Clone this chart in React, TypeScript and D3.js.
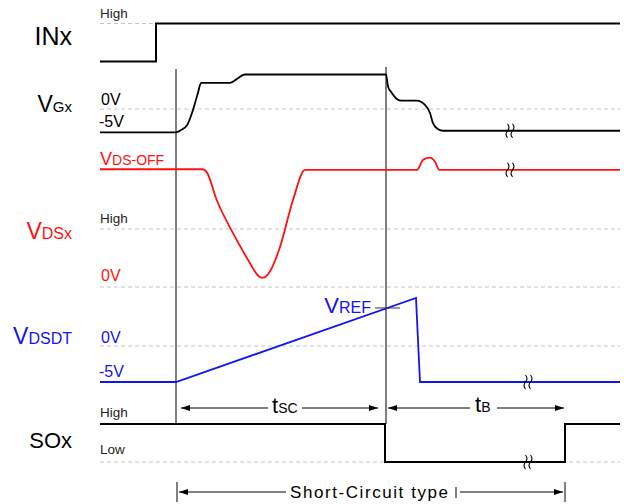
import React from 'react';
import * as d3 from 'd3';

// time axis in arbitrary units, 0 = left edge of the traces
const inxWave = [[0, 0], [56, 0], [56, 1], [520, 1]];
const vgxWave = [
  [0, -5], [76, -5], [82, -4.4], [87, -3.5], [93, -0.2], [98, 3.5], [101, 5.6],
  [130, 5.6], [136, 6.3], [145, 7.4], [286, 7.4], [288, 4.85], [291.7, 3.48],
  [296.7, 2.17], [301.7, 1.8], [316.7, 1.8], [325, 0.87], [330, -0.87],
  [333, -3.04], [336.7, -4.13], [343, -4.67], [520, -4.67],
];
const vdsWave = [
  [0, 2.03], [103, 2.03], [106.7, 1.98], [116.7, 1.5], [133, 0.93], [150, 0.41],
  [156, 0.24], [160, 0.17], [163, 0.16], [166, 0.18], [170, 0.27], [180, 0.69],
  [193, 1.5], [205, 2.02],
  [317, 2.02], [323, 2.19], [330, 2.23], [335, 2.16], [339.3, 2.02], [520, 2.02],
];
const vdsdtWave = [[0, -5], [76, -5], [316, 6.67], [320, -5], [520, -5]];
const soxWave = [[0, 1], [285, 1], [285, 0], [465, 0], [465, 1], [520, 1]];

const markerTimes = [76, 286];
const vrefLevel = 5.28;
const tscSpan = [76, 286];
const tbSpan = [287, 464];
const scSpan = [77, 465];
const breakTimes = { vgx: 410, vds: 410, vdsdt: 428, sox: 428 };

const FONT = '"Liberation Sans", Arial, sans-serif';
const RED = '#ff1010';
const BLUE = '#1414f0';
const DASH = '#c4c4c4';

export default function App() {
  const W = 624, H = 504;
  const x = d3.scaleLinear().domain([0, 520]).range([100, 620]);
  const yIn = d3.scaleLinear().domain([0, 1]).range([61.5, 23.5]);
  const yVg = d3.scaleLinear().domain([-5, 0]).range([132.3, 109]);
  const yVds = d3.scaleLinear().domain([0, 1]).range([287, 229]);
  const yDt = d3.scaleLinear().domain([-5, 0]).range([382, 346]);
  const ySo = d3.scaleLinear().domain([0, 1]).range([462, 424]);

  const mk = (ys: any, curve: any) =>
    d3.line<number[]>().x(d => x(d[0])).y(d => ys(d[1])).curve(curve);

  const squiggle = (cx: number, cy: number) =>
    [-2.5, 2.5].map(o => {
      const px = cx + o;
      return `M${px},${cy - 7} Q${px + 3},${cy - 3.5} ${px},${cy} Q${px - 3},${cy + 3.5} ${px},${cy + 7}`;
    }).join(' ');

  const dashed = (y: number, x0 = 100, x1 = 620) => (
    <line x1={x0} x2={x1} y1={y} y2={y} stroke={DASH} strokeWidth={1} strokeDasharray="4,3" />
  );

  const arrowHead = (tip: number, y: number, dir: number) =>
    `M${tip},${y} L${tip - dir * 9},${y - 3} L${tip - dir * 9},${y + 3} Z`;

  const arrowY = 408;
  const scY = 492;

  return (
    <svg width={W} height={H} style={{ position: 'absolute', left: 0, top: 0, background: '#fff' }}
      fontFamily={FONT}>
      {/* reference dashed levels */}
      {dashed(yIn(1), 100, x(56))}
      {dashed(yVg(0))}
      {dashed(yVds(1))}
      {dashed(yVds(0))}
      {dashed(yDt(0))}
      {dashed(ySo(0))}

      {/* marker verticals */}
      <line x1={x(markerTimes[0])} x2={x(markerTimes[0])} y1={69} y2={ySo(1)} stroke="#000" strokeWidth={1} />
      <line x1={x(markerTimes[1])} x2={x(markerTimes[1])} y1={67} y2={ySo(1)} stroke="#000" strokeWidth={1} />

      {/* traces */}
      <path d={mk(yIn, d3.curveLinear)(inxWave as any) || ''} fill="none" stroke="#000" strokeWidth={2} />
      <path d={mk(yVg, d3.curveMonotoneX)(vgxWave as any) || ''} fill="none" stroke="#000" strokeWidth={1.8} />
      <path d={mk(yVds, d3.curveMonotoneX)(vdsWave as any) || ''} fill="none" stroke={RED} strokeWidth={1.8} />
      <path d={mk(yDt, d3.curveLinear)(vdsdtWave as any) || ''} fill="none" stroke={BLUE} strokeWidth={1.8} />
      <path d={mk(ySo, d3.curveLinear)(soxWave as any) || ''} fill="none" stroke="#000" strokeWidth={2} />

      {/* break marks */}
      <path d={squiggle(x(breakTimes.vgx), yVg(-4.67))} fill="none" stroke="#000" strokeWidth={1.1} />
      <path d={squiggle(x(breakTimes.vds), yVds(2.02))} fill="none" stroke="#000" strokeWidth={1.1} />
      <path d={squiggle(x(breakTimes.vdsdt), yDt(-5))} fill="none" stroke="#000" strokeWidth={1.1} />
      <path d={squiggle(x(breakTimes.sox), ySo(0))} fill="none" stroke="#000" strokeWidth={1.1} />

      {/* VREF tick */}
      <line x1={375} x2={400} y1={yDt(vrefLevel)} y2={yDt(vrefLevel)} stroke="#333" strokeWidth={1} />
      <text x={371} y={312.5} textAnchor="end" fill={BLUE}>
        <tspan fontSize={22}>V</tspan><tspan fontSize={16}>REF</tspan>
      </text>

      {/* signal names */}
      <text x={72} y={45} textAnchor="end" fontSize={25} fill="#000">INx</text>
      <text x={72} y={112} textAnchor="end" fill="#000">
        <tspan fontSize={23}>V</tspan><tspan fontSize={15}>Gx</tspan>
      </text>
      <text x={72} y={238.5} textAnchor="end" fill={RED}>
        <tspan fontSize={23}>V</tspan><tspan fontSize={16}>DSx</tspan>
      </text>
      <text x={72} y={343.5} textAnchor="end" fill={BLUE}>
        <tspan fontSize={23}>V</tspan><tspan fontSize={16}>DSDT</tspan>
      </text>
      <text x={72} y={448} textAnchor="end" fontSize={22} fill="#000">SOx</text>

      {/* level labels */}
      <text x={100} y={17.7} fontSize={13.5} fill="#222">High</text>
      <text x={101} y={105} fontSize={16} fill="#000">0V</text>
      <text x={99} y={127} fontSize={16} fill="#000">-5V</text>
      <text x={100} y={165} fill={RED}>
        <tspan fontSize={18}>V</tspan><tspan fontSize={14}>DS-OFF</tspan>
      </text>
      <text x={100} y={223} fontSize={13.5} fill="#222">High</text>
      <text x={101} y={281} fontSize={16} fill={RED}>0V</text>
      <text x={101} y={343} fontSize={16} fill={BLUE}>0V</text>
      <text x={99} y={377} fontSize={16} fill={BLUE}>-5V</text>
      <text x={100} y={416.5} fontSize={13.5} fill="#222">High</text>
      <text x={100} y={454} fontSize={13.5} fill="#222">Low</text>

      {/* tSC */}
      <line x1={x(tscSpan[0]) + 5} x2={268} y1={arrowY} y2={arrowY} stroke="#000" strokeWidth={1} />
      <line x1={302} x2={x(tscSpan[1]) - 8} y1={arrowY} y2={arrowY} stroke="#000" strokeWidth={1} />
      <path d={arrowHead(x(tscSpan[0]) + 5, arrowY, -1)} fill="#000" />
      <path d={arrowHead(x(tscSpan[1]) - 8, arrowY, 1)} fill="#000" />
      <text x={272} y={413} fill="#000">
        <tspan fontSize={22}>t</tspan><tspan fontSize={14}>SC</tspan>
      </text>

      {/* tB */}
      <line x1={x(tbSpan[0]) + 1} x2={470} y1={arrowY} y2={arrowY} stroke="#000" strokeWidth={1} />
      <line x1={497} x2={x(tbSpan[1])} y1={arrowY} y2={arrowY} stroke="#000" strokeWidth={1} />
      <path d={arrowHead(x(tbSpan[0]) + 1, arrowY, -1)} fill="#000" />
      <path d={arrowHead(x(tbSpan[1]), arrowY, 1)} fill="#000" />
      <text x={475} y={412} fill="#000">
        <tspan fontSize={22}>t</tspan><tspan fontSize={14}>B</tspan>
      </text>

      {/* Short-Circuit type */}
      <line x1={x(scSpan[0])} x2={x(scSpan[0])} y1={482} y2={502} stroke="#000" strokeWidth={1} />
      <line x1={x(scSpan[1])} x2={x(scSpan[1])} y1={482} y2={502} stroke="#000" strokeWidth={1} />
      <line x1={x(scSpan[0]) + 2} x2={286} y1={scY} y2={scY} stroke="#000" strokeWidth={1} />
      <line x1={460} x2={x(scSpan[1]) - 2} y1={scY} y2={scY} stroke="#000" strokeWidth={1} />
      <path d={arrowHead(x(scSpan[0]) + 2, scY, -1)} fill="#000" />
      <path d={arrowHead(x(scSpan[1]) - 2, scY, 1)} fill="#000" />
      <text x={290} y={497.5} fontSize={17} textLength={158} lengthAdjust="spacing" fill="#000">Short-Circuit type</text>
      <line x1={456} x2={456} y1={487} y2={498} stroke="#000" strokeWidth={1} />
    </svg>
  );
}
